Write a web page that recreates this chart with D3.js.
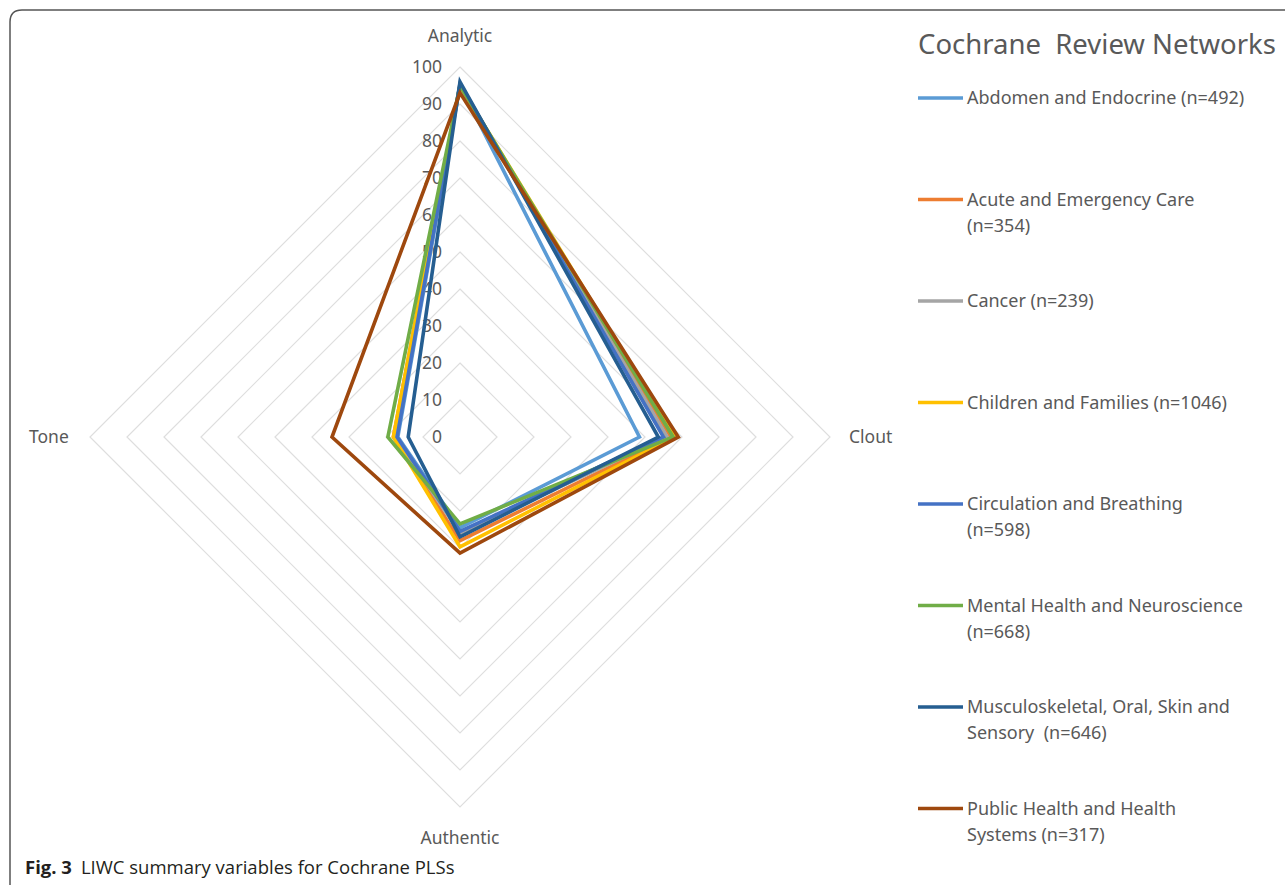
<!DOCTYPE html>
<html>
<head>
<meta charset="utf-8">
<script src="https://cdn.jsdelivr.net/npm/d3@7"></script>
<style>
  body{margin:0;background:#fff;}
  svg{display:block;}
  text{white-space:pre;}
</style>
</head>
<body>
<script>
// axes of the radar, clockwise from top
const axes = ["Analytic","Clout","Authentic","Tone"]
const networks = [
  ["Abdomen and Endocrine (n=492)"],
  ["Acute and Emergency Care","(n=354)"],
  ["Cancer (n=239)"],
  ["Children and Families (n=1046)"],
  ["Circulation and Breathing","(n=598)"],
  ["Mental Health and Neuroscience","(n=668)"],
  ["Musculoskeletal, Oral, Skin and","Sensory  (n=646)"],
  ["Public Health and Health","Systems (n=317)"]
]
const colors = ["#5b9bd5","#ed7d31","#a5a5a5","#ffc000","#4472c4","#70ad47","#255e91","#9e480e"]
const analytic  = [95, 95, 95, 95, 95.5, 95, 96, 93]
const clout     = [48.5, 57, 56, 58, 55, 57.6, 53.6, 59]
const authentic = [24.5, 28, 26, 29.7, 25.5, 23.5, 27, 31.4]
const tone      = [16.8, 18, 17.5, 18, 17, 19.5, 14, 34.6]
const ticks = [0,10,20,30,40,50,60,70,80,90,100]

const W=1285,H=885
const cx=460, cy=437
const svg=d3.select("body").append("svg").attr("width",W).attr("height",H)

// frame
svg.append("path")
  .attr("d","M10,890 L10,22 Q10,10 22,10 L1290,10")
  .attr("fill","none").attr("stroke","#555").attr("stroke-width",1.5)

const r=d3.scaleLinear().domain([0,100]).range([0,370])
const angle=d3.scalePoint().domain(axes).range([0,2*Math.PI*3/4])

const g=svg.append("g").attr("transform",`translate(${cx},${cy})`)

// grid diamonds
const radial=d3.lineRadial().curve(d3.curveLinearClosed)
g.selectAll(".grid").data(ticks.slice(1)).join("path")
  .attr("class","grid")
  .attr("d",t=>radial(axes.map(a=>[angle(a),r(t)])))
  .attr("fill","none").attr("stroke","#dedede").attr("stroke-width",1.2)

// tick labels
g.selectAll(".tick").data(ticks).join("text")
  .attr("class","tick")
  .attr("x",-18).attr("y",d=>-r(d)).attr("dy","0.35em")
  .attr("text-anchor","end")
  .attr("font-family","Noto Sans").attr("font-size",17.5).attr("fill","#595959")
  .text(d=>d)

// axis labels
const labelPos={Analytic:[0,-401,"middle"],Clout:[389,0,"start"],Authentic:[0,401,"middle"],Tone:[-431,0,"start"]}
axes.forEach(a=>{
  const p=labelPos[a]
  g.append("text").attr("x",p[0]).attr("y",p[1]).attr("dy","0.35em")
    .attr("text-anchor",p[2])
    .attr("font-family","Noto Sans").attr("font-size",17.5).attr("fill","#595959")
    .text(a)
})

// series
const series=networks.map((n,i)=>({name:n,color:colors[i],values:[analytic[i],clout[i],authentic[i],tone[i]]}))
g.selectAll(".series").data(series).join("path")
  .attr("class","series")
  .attr("d",d=>radial(d.values.map((v,j)=>[angle(axes[j]),r(v)])))
  .attr("fill","none").attr("stroke",d=>d.color).attr("stroke-width",3.6)
  .attr("stroke-linejoin","miter").attr("stroke-miterlimit",10)

// legend
svg.append("text").attr("x",918).attr("y",54)
  .attr("font-family","Noto Sans").attr("font-size",27.5).attr("fill","#595959")
  .text("Cochrane  Review Networks")

const leg=svg.selectAll(".leg").data(series).join("g")
  .attr("class","leg")
  .attr("transform",(d,i)=>`translate(918,${98+i*101.5})`)
leg.append("line").attr("x1",0).attr("x2",45).attr("y1",0).attr("y2",0)
  .attr("stroke",d=>d.color).attr("stroke-width",3.6)
leg.append("text")
  .attr("font-family","Noto Sans").attr("font-size",18).attr("fill","#595959")
  .selectAll("tspan").data(d=>d.name).join("tspan")
  .attr("x",49).attr("y",(d,i)=>i*26).attr("dy","0.35em")
  .text(d=>d)

// caption
const cap=svg.append("text").attr("x",25).attr("y",874)
  .attr("font-family","Open Sans").attr("font-size",18.5).attr("fill","#231f20")
cap.append("tspan").attr("font-weight","bold").text("Fig. 3")
cap.append("tspan").attr("dx",9).text("LIWC summary variables for Cochrane PLSs")
</script>
</body>
</html>
